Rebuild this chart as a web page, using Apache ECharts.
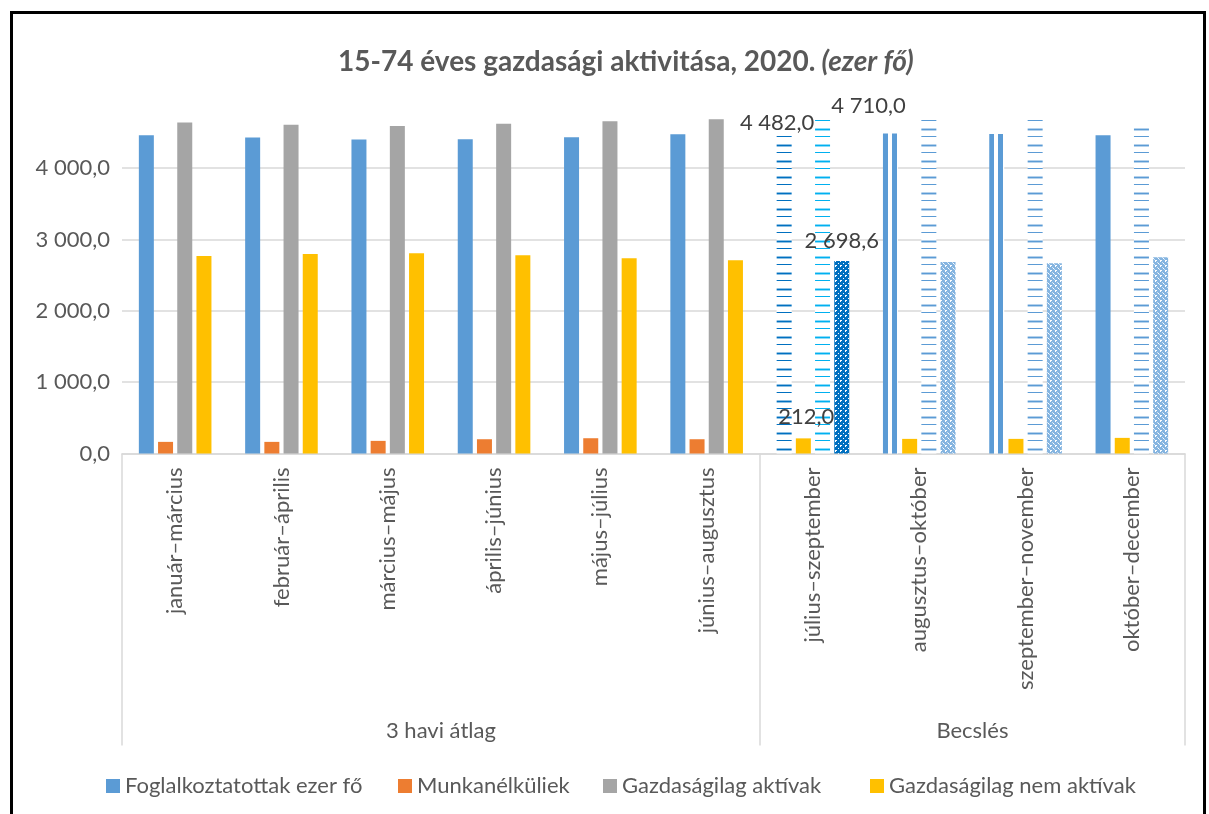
<!DOCTYPE html>
<html><head><meta charset="utf-8">
<script src="https://cdn.jsdelivr.net/npm/echarts@6/dist/echarts.min.js"></script>
<style>
html,body{margin:0;padding:0;background:#fff}
#c{position:absolute;left:0;top:0;width:1209px;height:814px}
#frame{position:absolute;left:10px;top:11px;width:1196px;height:830px;border:3px solid #000;box-sizing:border-box;pointer-events:none}
</style></head><body>
<div id="c"></div><div id="frame"></div>
<script>
// ---- data ----
const categories = ['január–március','február–április','március–május','április–június','május–július','június–augusztus','július–szeptember','augusztus–október','szeptember–november','október–december'];
const groupNames = ['3 havi átlag','Becslés'];
const groupSizes = [6, 4];
const seriesNames = ['Foglalkoztatottak ezer fő','Munkanélküliek','Gazdaságilag aktívak','Gazdaságilag nem aktívak'];
const employed   = [4462, 4430, 4402, 4406, 4434, 4476, 4482.0, 4486, 4478, 4462];
const unemployed = [163, 163, 177, 200, 214, 200, 212.0, 205, 205, 219];
const active     = [4640, 4607, 4589, 4621, 4659, 4687, 4710.0, 4682, 4682, 4575];
const inactive   = [2768, 2796, 2808, 2780, 2738, 2710, 2698.6, 2686, 2668, 2752];
const labelledCategory = 'július–szeptember';
const yTickStep = 1000;

// ---- styles ----
const FONT = 'Lato';
const TXT = '#595959';
const baseColors = ['#5B9BD5','#ED7D31','#A5A5A5','#FFC000'];
const legendLefts = [101, 393, 598, 865];

function hStripe(color){
  const c=document.createElement('canvas'); c.width=4; c.height=16;
  const g=c.getContext('2d');
  g.fillStyle='#fff'; g.fillRect(0,0,4,16);
  g.fillStyle=color;
  g.globalAlpha=0.45; g.fillRect(0,0,4,1); g.fillRect(0,2,4,1);
  g.globalAlpha=1; g.fillRect(0,1,4,1); g.fillRect(0,8,4,1);
  return {image:c, repeat:'repeat'};
}
function checker(color, light){
  const c=document.createElement('canvas'); c.width=5; c.height=5;
  const g=c.getContext('2d');
  g.fillStyle='#fff'; g.fillRect(0,0,5,5);
  g.fillStyle=color; g.globalAlpha= light?0.75:1; g.fillRect(0,0,5,5);
  g.globalAlpha=1; g.fillStyle='#fff';
  g.fillRect(0,0,2,1); g.fillRect(0,0,1,2); g.fillRect(3,3,1,1);
  if(light){ g.globalAlpha=0.6; g.fillRect(2,2,1,1); g.fillRect(4,4,1,1); }
  return {image:c, repeat:'repeat'};
}
function doubleLine(color){
  return {type:'linear',x:0,y:0,x2:1,y2:0,colorStops:[
    {offset:0,color:color},{offset:0.33,color:color},
    {offset:0.33,color:'#fff'},{offset:0.6,color:'#fff'},
    {offset:0.6,color:color},{offset:0.93,color:color},
    {offset:0.93,color:'#fff'},{offset:1,color:'#fff'}]};
}
// per-category fills for the estimate group (index into categories)
const estFills = [
  {6: hStripe('#0070C0'), 7: doubleLine('#5B9BD5'), 8: doubleLine('#5B9BD5')},
  {6: '#FFC000', 7: '#FFC000', 8: '#FFC000', 9: '#FFC000'},
  {6: hStripe('#00B0F0'), 7: hStripe('#5B9BD5'), 8: hStripe('#5B9BD5'), 9: hStripe('#5B9BD5')},
  {6: checker('#0070C0', false), 7: checker('#5B9BD5', true), 8: checker('#5B9BD5', true), 9: checker('#5B9BD5', true)}
];
const labelOffsets = [[-7,5],[3,-5],[46,4],[0,-4]];

function fmt(v){
  const p = Number(v).toFixed(1).split('.');
  return p[0].replace(/\B(?=(\d{3})+(?!\d))/g,' ') + ',' + p[1];
}

const values = [employed, unemployed, active, inactive];
const labelIdx = categories.indexOf(labelledCategory);

const series = values.map((arr, s) => ({
  type:'bar', name: seriesNames[s], barWidth: 15, barGap: '28%',
  itemStyle:{color: baseColors[s]},
  data: arr.map((v,i) => {
    const d = {value: v};
    if (estFills[s][i] !== undefined) d.itemStyle = {color: estFills[s][i]};
    if (i === labelIdx) d.label = {show:true, position:'top', distance:5, formatter: p => fmt(p.value),
      fontFamily: FONT, fontSize: 22, color:'#404040', offset: labelOffsets[s]};
    return d;
  })
}));

// group boundaries and centres for the second-level axis
const bounds=[0]; groupSizes.forEach(n=>bounds.push(bounds[bounds.length-1]+n));
const centres = groupSizes.map((n,i)=>bounds[i]+n/2);
const total = bounds[bounds.length-1];

const legends = seriesNames.map((n,i)=>({
  data:[n], left: legendLefts[i], top: 770, icon:'rect', itemWidth:14, itemHeight:14,
  textStyle:{fontFamily:FONT,fontSize:22,color:TXT}
}));

const chart = echarts.init(document.getElementById('c'), null, {renderer:'canvas'});
chart.setOption({
  animation:false,
  title:{
    text:'{b|15-74 éves gazdasági aktivitása, 2020.}{i| (ezer fő)}',
    left: 333, top: 43,
    textStyle:{rich:{
      b:{fontFamily:FONT,fontWeight:'bold',fontSize:28,color:TXT},
      i:{fontFamily:FONT,fontWeight:'bold',fontStyle:'italic',fontSize:28,color:TXT}
    }}
  },
  legend: legends,
  grid:{left:122, right:24, top:96.8, bottom:360.5, containLabel:false},
  xAxis:[
    {type:'category', data:categories, position:'bottom',
     axisLine:{lineStyle:{color:'#D9D9D9',width:1.5}}, axisTick:{show:false},
     axisLabel:{rotate:90, interval:0, margin:14, fontFamily:FONT, fontSize:22, color:TXT}},
    {type:'value', min:0, max:total, position:'bottom', axisLine:{show:false}, splitLine:{show:false},
     axisTick:{show:true, customValues:bounds, length:292, lineStyle:{color:'#D9D9D9',width:1.5}},
     axisLabel:{customValues:centres, margin:266, fontFamily:FONT, fontSize:22, color:TXT,
       formatter: v => { const k = centres.indexOf(v); return k>=0 ? groupNames[k] : ''; }}}
  ],
  yAxis:{type:'value', min:0, max:5*yTickStep, interval:yTickStep,
    axisLine:{show:false}, axisTick:{show:false},
    axisLabel:{formatter: v => fmt(v), showMaxLabel:false, margin:12, fontFamily:FONT, fontSize:22, color:TXT},
    splitLine:{showMaxLine:false, lineStyle:{color:'#D9D9D9', width:1.5}}},
  series: series
});
</script>
</body></html>
